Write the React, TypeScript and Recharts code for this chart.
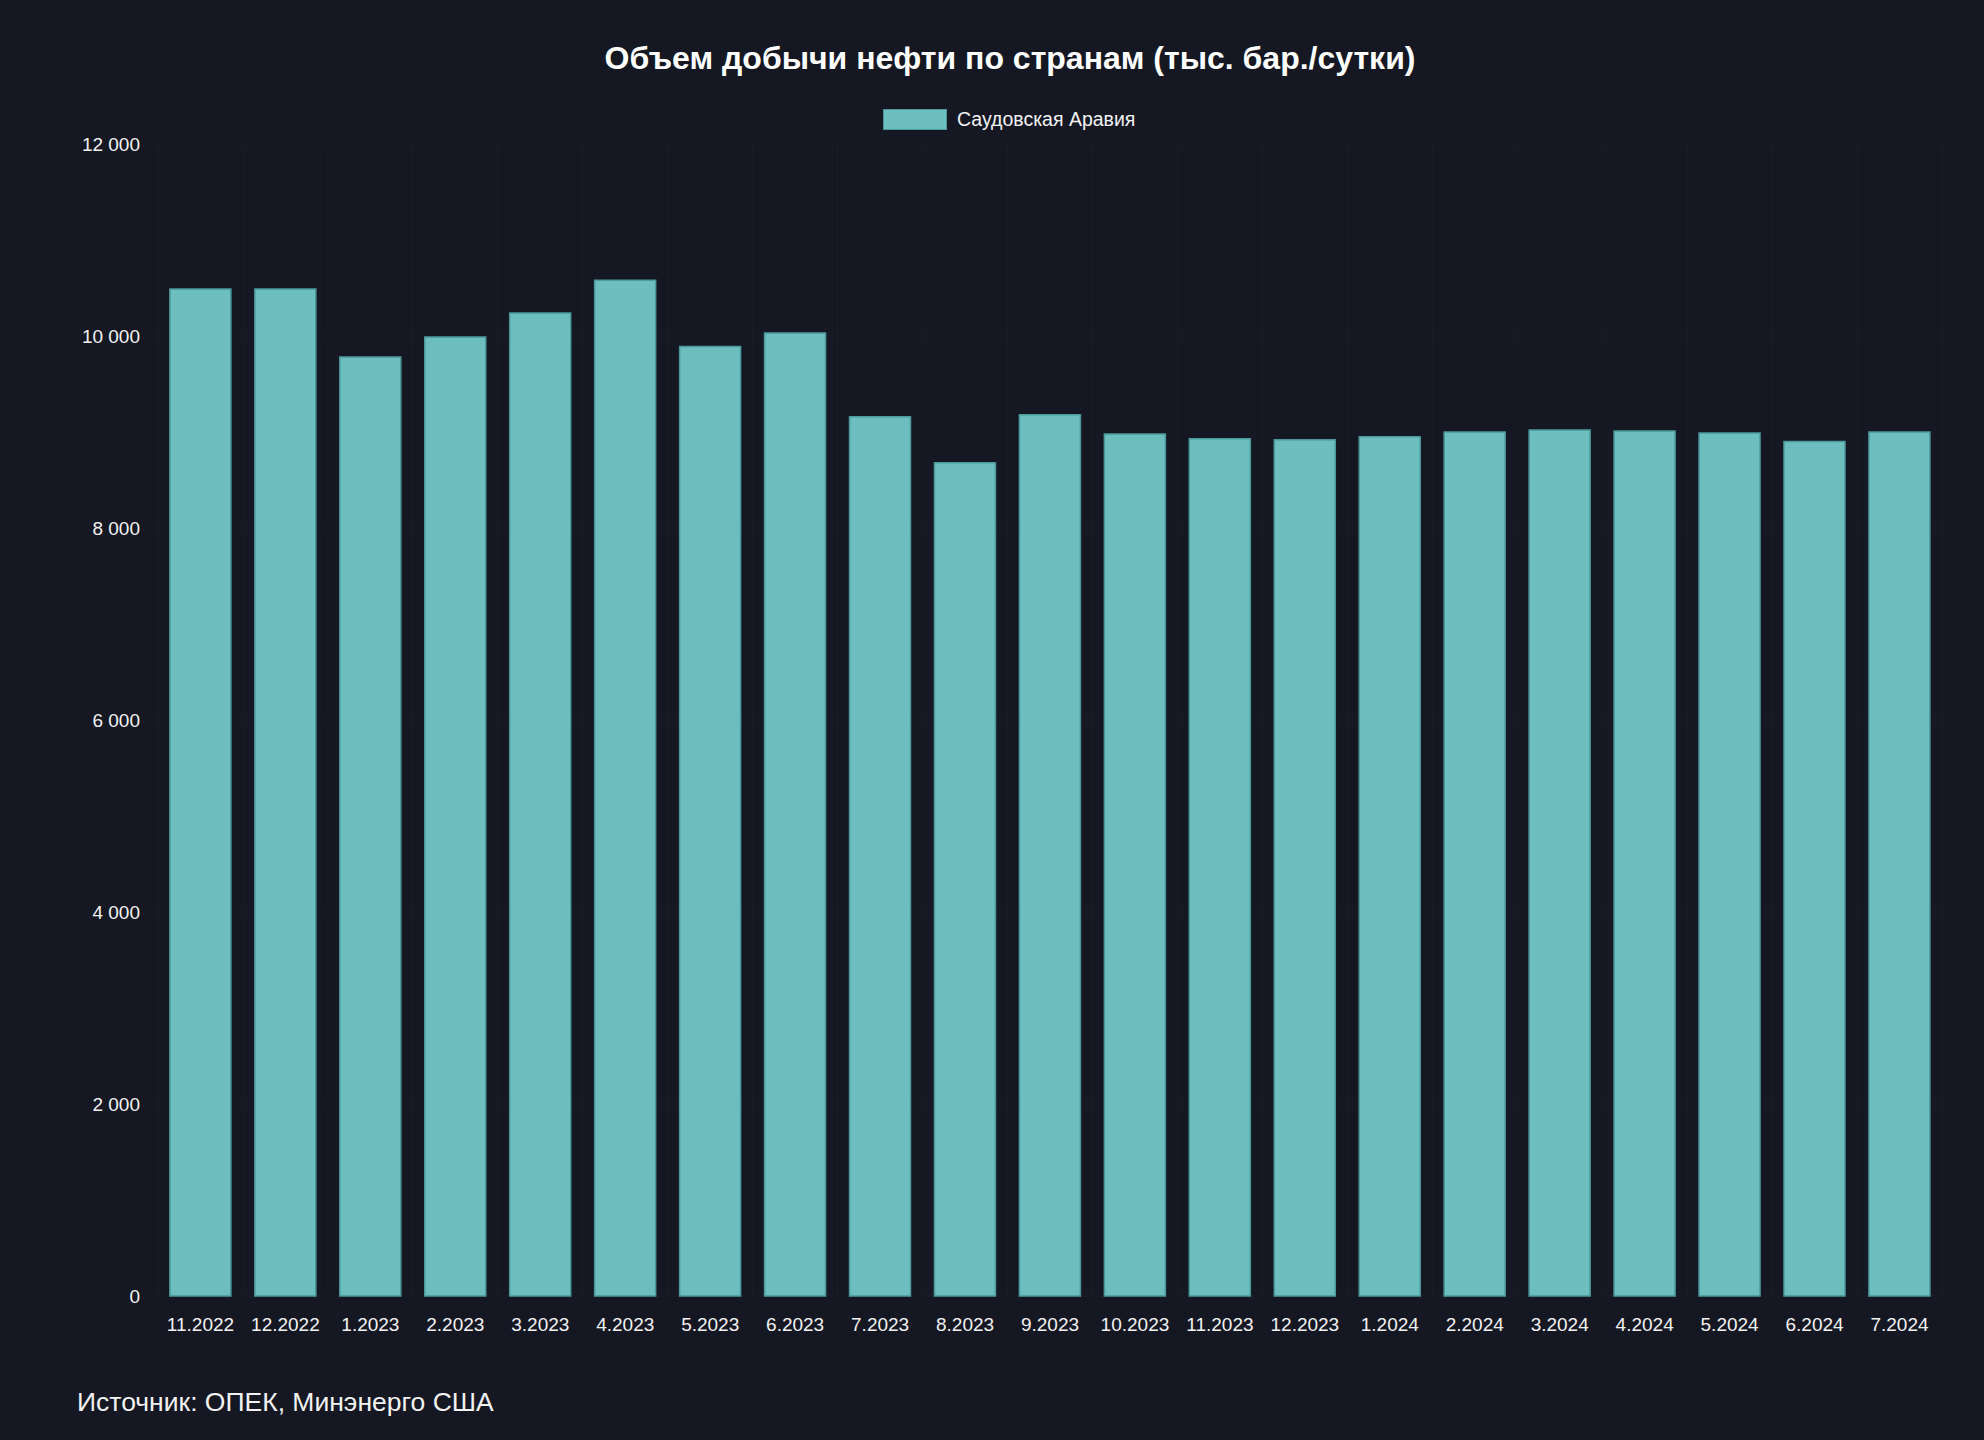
import React from "react";
import {
  BarChart,
  Bar,
  XAxis,
  YAxis,
  CartesianGrid,
  Legend,
} from "recharts";

const months = [
  "11.2022",
  "12.2022",
  "1.2023",
  "2.2023",
  "3.2023",
  "4.2023",
  "5.2023",
  "6.2023",
  "7.2023",
  "8.2023",
  "9.2023",
  "10.2023",
  "11.2023",
  "12.2023",
  "1.2024",
  "2.2024",
  "3.2024",
  "4.2024",
  "5.2024",
  "6.2024",
  "7.2024",
];

const saudiArabia = [
  10490, 10490, 9780, 9990, 10240, 10580, 9890, 10030, 9160, 8680, 9180, 8980,
  8930, 8920, 8950, 9000, 9020, 9010, 8990, 8900, 9000,
];

const yTicks = [0, 2000, 4000, 6000, 8000, 10000, 12000];

const seriesName = "Саудовская Аравия";
const title = "Объем добычи нефти по странам (тыс. бар./сутки)";
const source = "Источник: ОПЕК, Минэнерго США";

const data = months.map((month, i) => ({ month, value: saudiArabia[i] }));

const BG = "#151822";
const GRID = "#1b1e29";
const FILL = "#6dbebe";
const BORDER = "#4b999b";
const FONT = "'Liberation Sans', Arial, Helvetica, sans-serif";

const formatThousands = (v: number) =>
  String(v).replace(/\B(?=(\d{3})+(?!\d))/g, " ");

// vertical grid lines sit between categories, like the original
const boundaryLines = ({ offset }: any) => {
  const n = months.length;
  const step = offset.width / n;
  return Array.from({ length: n + 1 }, (_, i) => offset.left + i * step);
};

const LegendContent = () => (
  <div
    style={{
      display: "flex",
      alignItems: "center",
      fontFamily: FONT,
      fontSize: 19.5,
      color: "#f2f2f2",
    }}
  >
    <span
      style={{
        display: "inline-block",
        width: 62,
        height: 19,
        background: FILL,
        border: `1px solid ${BORDER}`,
        marginRight: 10,
      }}
    />
    <span>{seriesName}</span>
  </div>
);

const App: React.FC = () => {
  return (
    <div
      style={{
        position: "relative",
        width: 1984,
        height: 1440,
        background: BG,
        fontFamily: FONT,
      }}
    >
      <style>{`body { margin: 0; background: ${BG}; }`}</style>
      <div
        style={{
          position: "absolute",
          top: 38,
          left: 18,
          width: 1984,
          textAlign: "center",
          color: "#ffffff",
          fontWeight: 700,
          fontSize: 32,
          lineHeight: "40px",
        }}
      >
        {title}
      </div>

      <BarChart
        width={1984}
        height={1440}
        data={data}
        margin={{ top: 144, right: 42, bottom: 84, left: 58 }}
        barCategoryGap="14%"
      >
        <CartesianGrid
          stroke={GRID}
          strokeWidth={1}
          verticalCoordinatesGenerator={boundaryLines}
        />
        <XAxis
          dataKey="month"
          height={60}
          axisLine={false}
          tickLine={false}
          tickSize={0}
          tickMargin={22}
          interval={0}
          tick={{ fill: "#f2f2f2", fontSize: 19, fontFamily: FONT }}
        />
        <YAxis
          width={100}
          domain={[0, 12000]}
          ticks={yTicks}
          axisLine={false}
          tickLine={false}
          tickSize={0}
          tickMargin={18}
          tickFormatter={formatThousands}
          tick={{ fill: "#f2f2f2", fontSize: 19, fontFamily: FONT }}
        />
        <Legend
          layout="horizontal"
          verticalAlign="middle"
          align="center"
          content={<LegendContent />}
          wrapperStyle={{ top: 108, left: 883, width: "auto" }}
        />
        <Bar
          dataKey="value"
          name={seriesName}
          fill={FILL}
          stroke={BORDER}
          strokeWidth={1.5}
          isAnimationActive={false}
        />
      </BarChart>

      <div
        style={{
          position: "absolute",
          top: 1385,
          left: 77,
          color: "#f2f2f2",
          fontSize: 26.5,
          lineHeight: "34px",
        }}
      >
        {source}
      </div>
    </div>
  );
};

export default App;
